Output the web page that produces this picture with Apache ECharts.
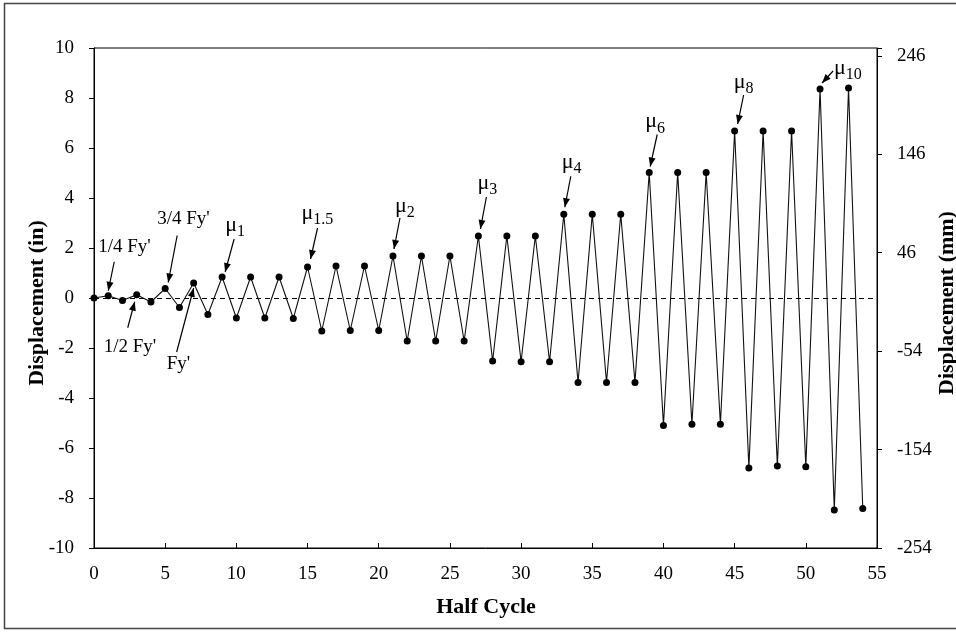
<!DOCTYPE html>
<html><head><meta charset="utf-8">
<script src="https://cdn.jsdelivr.net/npm/echarts@6/dist/echarts.min.js"></script>
<style>html,body{margin:0;padding:0;background:#fff}#c{width:956px;height:632px}</style>
</head><body><div id="c"></div>
<script>
const halfCycles = [0,1,2,3,4,5,6,7,8,9,10,11,12,13,14,15,16,17,18,19,20,21,22,23,24,25,26,27,28,29,30,31,32,33,34,35,36,37,38,39,40,41,42,43,44,45,46,47,48,49,50,51,52,53,54];
const displacementIn = [0,0.09,-0.1,0.13,-0.16,0.38,-0.38,0.6,-0.66,0.84,-0.8,0.84,-0.8,0.84,-0.82,1.24,-1.32,1.28,-1.3,1.28,-1.3,1.68,-1.72,1.68,-1.72,1.68,-1.72,2.48,-2.52,2.48,-2.55,2.48,-2.55,3.35,-3.38,3.35,-3.38,3.35,-3.38,5.02,-5.1,5.02,-5.05,5.02,-5.05,6.68,-6.8,6.68,-6.72,6.68,-6.75,8.36,-8.48,8.4,-8.42];
const leftTicks = [-10,-8,-6,-4,-2,0,2,4,6,8,10];
const rightTicksMm = [-254,-154,-54,46,146,246];
const xTicks = [0,5,10,15,20,25,30,35,40,45,50,55];
// annotations: index of half cycle, label
const annoIdx = [1,3,5,7,9,15,21,27,33,39,45,51];
const annoMain = ["1/4 Fy'","1/2 Fy'","3/4 Fy'","Fy'","μ","μ","μ","μ","μ","μ","μ","μ"];
const annoSub = ["","","","","1","1.5","2","3","4","6","8","10"];
// layout offsets (px) relative to the marked point: text left/center-y, arrow tail, arrow head
const annoLayout = [
 {tx:-10,ty:-49,ax:6,ay:-34,hx:0,hy:-5},
 {tx:-33,ty:52,ax:-9,ay:33,hx:-2,hy:7},
 {tx:-8,ty:-69,ax:12,ay:-53,hx:3,hy:-6},
 {tx:-27,ty:81,ax:-17,ay:69,hx:0,hy:5},
 {tx:3,ty:-52,ax:12,ay:-38,hx:3,hy:-5},
 {tx:-6,ty:-54,ax:10,ay:-39,hx:3,hy:-8},
 {tx:2,ty:-50,ax:7,ay:-38,hx:1,hy:-7},
 {tx:-1,ty:-53,ax:8,ay:-39,hx:2,hy:-7},
 {tx:-2,ty:-52,ax:7,ay:-38,hx:1,hy:-7},
 {tx:-4,ty:-51,ax:8,ay:-38,hx:1,hy:-6},
 {tx:-1,ty:-49,ax:9,ay:-36,hx:3,hy:-7},
 {tx:14,ty:-21,ax:13,ay:-18,hx:2,hy:-6}
];
const FONT = "'Liberation Serif','Times New Roman',serif";
const chart = echarts.init(document.getElementById('c'));
const data = halfCycles.map((x,i)=>[x,displacementIn[i]]);
const option = {
  animation:false,
  backgroundColor:'#fff',
  grid:{left:94,right:79,top:48,bottom:84,show:true,borderColor:'#000',borderWidth:1,backgroundColor:'transparent'},
  xAxis:{type:'value',min:0,max:55,interval:5,
    axisLine:{onZero:false,lineStyle:{color:'#000',width:1}},
    axisTick:{show:true,inside:true,length:5,lineStyle:{color:'#000'}},
    axisLabel:{color:'#000',fontFamily:FONT,fontSize:19,margin:17,formatter:v=>xTicks.includes(v)?String(v):''},
    splitLine:{show:false}},
  yAxis:[
    {type:'value',min:-10,max:10,interval:2,position:'left',
     axisLine:{show:true,onZero:false,lineStyle:{color:'#000'}},
     axisTick:{show:true,length:5,lineStyle:{color:'#000'}},
     axisLabel:{color:'#000',fontFamily:FONT,fontSize:19,margin:20,formatter:v=>leftTicks.includes(v)?String(v):''},
     splitLine:{show:false}},
    {type:'value',min:0,max:508,interval:100,position:'right',
     axisLine:{show:true,onZero:false,lineStyle:{color:'#000'}},
     axisTick:{show:true,length:5,lineStyle:{color:'#000'}},
     axisLabel:{color:'#000',fontFamily:FONT,fontSize:19,margin:20,
       formatter:v=>{const m=Math.round(v-254);return rightTicksMm.includes(m)?String(m):'';}},
     splitLine:{show:false}}
  ],
  series:[{
    type:'line',data:data,yAxisIndex:0,
    symbol:'circle',symbolSize:7,showSymbol:true,
    itemStyle:{color:'#000'},
    lineStyle:{color:'#111',width:1.1},
    markLine:{silent:true,symbol:['none','none'],label:{show:false},
      lineStyle:{color:'#000',type:[5,4],width:1},
      data:[{yAxis:0}]}
  }],
  graphic:[
    {type:'rect',shape:{x:4.5,y:3.5,width:960,height:625},style:{fill:'none',stroke:'#444',lineWidth:1.5},silent:true,z:-1},
    {type:'text',x:37,y:303,rotation:Math.PI/2,style:{text:'Displacement (in)',font:"bold 22px "+FONT,fill:'#000',align:'center',verticalAlign:'middle'}},
    {type:'text',x:947,y:303,rotation:Math.PI/2,style:{text:'Displacement (mm)',font:"bold 22px "+FONT,fill:'#000',align:'center',verticalAlign:'middle'}},
    {type:'text',x:486,y:607,style:{text:'Half Cycle',font:"bold 22px "+FONT,fill:'#000',align:'center',verticalAlign:'middle'}}
  ]
};
chart.setOption(option);

// annotations positioned from the data points
const g = option.graphic.slice();
annoIdx.forEach((idx,k)=>{
  const p = chart.convertToPixel({seriesIndex:0},[halfCycles[idx],displacementIn[idx]]);
  const L = annoLayout[k];
  const txt = annoSub[k] ? '{m|'+annoMain[k]+'}{s|'+annoSub[k]+'}' : '{f|'+annoMain[k]+'}';
  g.push({type:'text',x:p[0]+L.tx,y:p[1]+L.ty,style:{text:txt,align:'left',verticalAlign:'middle',fill:'#000',
    rich:{f:{fontFamily:FONT,fontSize:19,fill:'#000'},
          m:{fontFamily:FONT,fontSize:22,fill:'#000',lineHeight:22,verticalAlign:'bottom'},
          s:{fontFamily:FONT,fontSize:16,fill:'#000',lineHeight:16,verticalAlign:'bottom',padding:[0,0,-4,0]}}}});
  const x1=p[0]+L.ax,y1=p[1]+L.ay,x2=p[0]+L.hx,y2=p[1]+L.hy;
  g.push({type:'line',shape:{x1:x1,y1:y1,x2:x2,y2:y2},style:{stroke:'#000',lineWidth:1.2}});
  const ang=Math.atan2(y2-y1,x2-x1), len=9, w=3.5;
  const bx=x2-len*Math.cos(ang), by=y2-len*Math.sin(ang);
  g.push({type:'polygon',shape:{points:[[x2,y2],[bx+w*Math.sin(ang),by-w*Math.cos(ang)],[bx-w*Math.sin(ang),by+w*Math.cos(ang)]]},style:{fill:'#000'}});
});
chart.setOption({graphic:g});
</script></body></html>
